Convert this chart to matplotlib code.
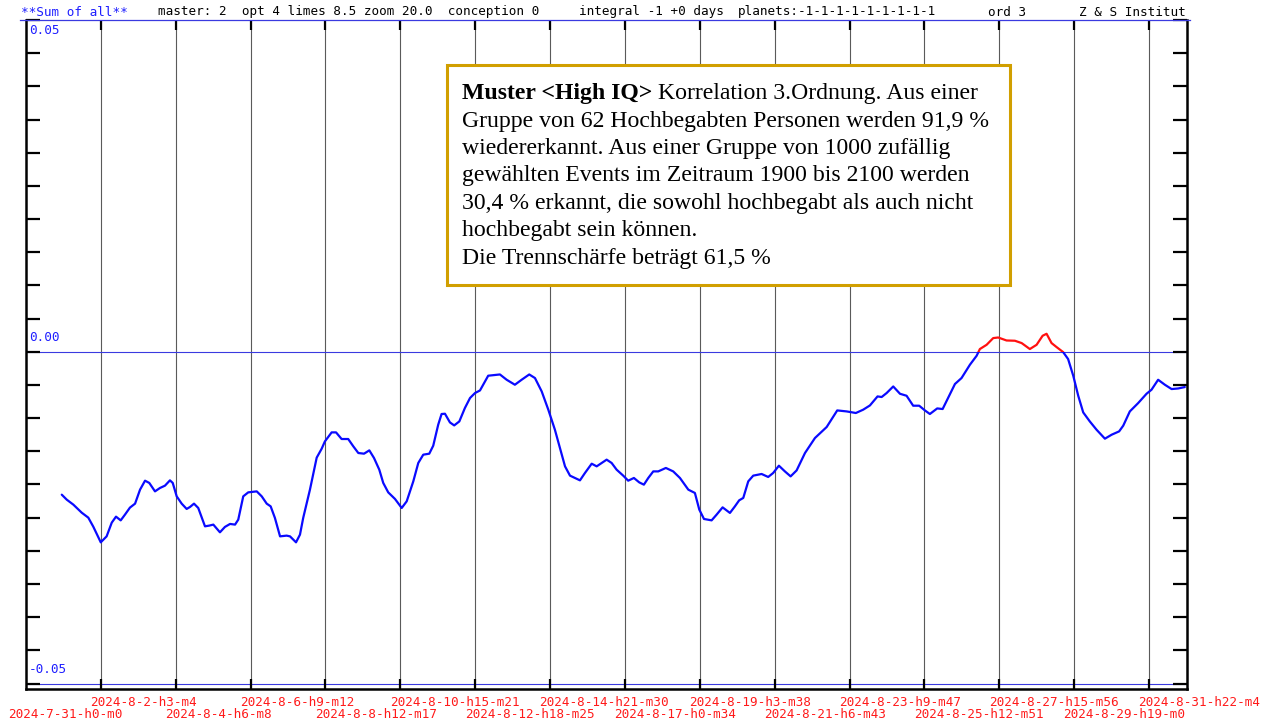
import matplotlib
matplotlib.use("Agg")
import matplotlib.pyplot as plt
import matplotlib.patches as mpatches
import matplotlib.transforms as mtransforms
from matplotlib.lines import Line2D
import numpy as np
from datetime import datetime

# ---------------- data ----------------
# hours since 2024-7-31 00:00
hours = [24.4, 27.8, 32.3, 38.0, 42.5, 45.9, 51.0, 55.0, 58.5, 61.4, 64.6, 67.5, 70.9, 74.4,
         77.8, 81.2, 84.1, 88.0, 91.4, 94.8, 98.2, 100.1, 102.8, 106.2, 109.6, 111.9, 114.6,
         117.5, 122.1, 125.0, 127.8, 132.3, 135.7, 139.2, 142.6, 144.8, 148.2, 151.6, 157.4,
         160.8, 164.2, 166.9, 169.8, 173.3, 177.8, 180.1, 184.2, 186.9, 189.1, 191.5, 193.7,
         198.3, 201.7, 203.9, 208.5, 211.5, 215.3, 219.8, 223.3, 226.7, 230.6, 234.2, 237.4,
         241.0, 243.7, 247.1, 251.7, 256.3, 259.7, 264.2, 267.6, 271.0, 275.1, 277.8, 281.2,
         283.5, 285.8, 289.2, 292.1, 295.6, 299.4, 302.9, 306.3, 309.7, 315.3, 319.9, 323.3,
         327.9, 333.5, 338.1, 343.3, 347.2, 351.8, 356.3, 360.8, 364.2, 367.7, 371.1, 374.5,
         377.9, 381.3, 385.9, 389.3, 396.1, 399.5, 402.9, 407.4, 410.8, 414.7, 418.3, 421.5,
         424.5, 427.9, 431.3, 436.5, 441.5, 446.1, 451.8, 456.3, 459.3, 462.5, 467.7, 471.1,
         475.2, 480.2, 483.6, 486.5, 489.3, 492.7, 496.1, 501.8, 506.3, 509.7, 513.6, 517.7,
         521.6, 525.7, 531.4, 538.2, 546.2, 553.4, 559.8, 566.1, 571.1, 575.7, 580.9, 583.7,
         587.1, 591.6, 596.2, 600.7, 605.2, 609.3, 613.2, 616.6, 621.6, 625.3, 628.4, 633.7,
         638.2, 643.9, 648.5, 650.7, 655.3, 659.8, 663.2, 668.9, 674.6, 679.2, 684.8, 689.4,
         693.5, 696.2, 699.6, 703.0, 707.5, 710.9, 714.4, 717.8, 721.2, 725.7, 730.3, 736.0,
         740.6, 745.7, 748.5, 753.0, 758.7, 764.4, 767.8, 772.3, 776.9, 781.5, 786.0, 790.5]

values = [-0.02154, -0.02229, -0.02304, -0.02425, -0.02500, -0.02636, -0.02872, -0.02782,
          -0.02575, -0.02485, -0.02541, -0.02455, -0.02349, -0.02289, -0.02078, -0.01943,
          -0.01977, -0.02104, -0.02053, -0.02018, -0.01938, -0.01977, -0.02179, -0.02289,
          -0.02369, -0.02339, -0.02289, -0.02354, -0.02631, -0.02620, -0.02605, -0.02721,
          -0.02640, -0.02595, -0.02605, -0.02530, -0.02179, -0.02119, -0.02104, -0.02179,
          -0.02289, -0.02330, -0.02504, -0.02782, -0.02771, -0.02782, -0.02872, -0.02756,
          -0.02504, -0.02279, -0.02078, -0.01596, -0.01461, -0.01351, -0.01215, -0.01215,
          -0.01315, -0.01315, -0.01426, -0.01526, -0.01536, -0.01486, -0.01601, -0.01777,
          -0.01977, -0.02119, -0.02218, -0.02354, -0.02254, -0.01953, -0.01676, -0.01551,
          -0.01536, -0.01416, -0.01099, -0.00938, -0.00934, -0.01065, -0.01110, -0.01050,
          -0.00848, -0.00697, -0.00622, -0.00583, -0.00361, -0.00351, -0.00342, -0.00422,
          -0.00497, -0.00422, -0.00342, -0.00396, -0.00598, -0.00873, -0.01175, -0.01450,
          -0.01727, -0.01867, -0.01902, -0.01938, -0.01827, -0.01687, -0.01727, -0.01626,
          -0.01676, -0.01777, -0.01867, -0.01943, -0.01902, -0.01968, -0.02003, -0.01902,
          -0.01803, -0.01803, -0.01751, -0.01803, -0.01902, -0.02078, -0.02128, -0.02379,
          -0.02520, -0.02541, -0.02455, -0.02345, -0.02429, -0.02330, -0.02239, -0.02203,
          -0.01953, -0.01867, -0.01842, -0.01887, -0.01827, -0.01717, -0.01803, -0.01878,
          -0.01788, -0.01526, -0.01300, -0.01134, -0.00884, -0.00899, -0.00923, -0.00873,
          -0.00809, -0.00673, -0.00682, -0.00622, -0.00523, -0.00633, -0.00663, -0.00813,
          -0.00813, -0.00884, -0.00938, -0.00854, -0.00863, -0.00723, -0.00486, -0.00396,
          -0.00196, -0.00060, 0.00041, 0.00105, 0.00206, 0.00215, 0.00170, 0.00166,
          0.00131, 0.00041, 0.00105, 0.00241, 0.00271, 0.00131, 0.00071, -0.00005,
          -0.00110, -0.00361, -0.00663, -0.00914, -0.01050, -0.01175, -0.01310, -0.01250,
          -0.01200, -0.01114, -0.00899, -0.00773, -0.00633, -0.00572, -0.00422, -0.00497,
          -0.00562, -0.00553, -0.00532]

tick_labels = ["2024-7-31-h0-m0", "2024-8-2-h3-m4", "2024-8-4-h6-m8", "2024-8-6-h9-m12",
               "2024-8-8-h12-m17", "2024-8-10-h15-m21", "2024-8-12-h18-m25",
               "2024-8-14-h21-m30", "2024-8-17-h0-m34", "2024-8-19-h3-m38",
               "2024-8-21-h6-m43", "2024-8-23-h9-m47", "2024-8-25-h12-m51",
               "2024-8-27-h15-m56", "2024-8-29-h19-m0", "2024-8-31-h22-m4"]

y_labels = ["0.05", "0.00", "-0.05"]
y_label_values = [0.05, 0.0, -0.05]

header_parts = ["**Sum of all**",
                "master: 2  opt 4 limes 8.5 zoom 20.0  conception 0",
                "integral -1 +0 days",
                "planets:-1-1-1-1-1-1-1-1-1",
                "ord 3",
                "Z & S Institut"]

box_title = "Muster <High IQ>"
box_lines = [" Korrelation 3.Ordnung. Aus einer",
             "Gruppe von 62 Hochbegabten Personen werden 91,9 %",
             "wiedererkannt. Aus einer Gruppe von 1000 zufällig",
             "gewählten Events im Zeitraum 1900 bis 2100 werden",
             "30,4 % erkannt, die sowohl hochbegabt als auch nicht",
             "hochbegabt sein können.",
             "Die Trennschärfe beträgt 61,5 %"]

# ---------------- figure ----------------
W, H = 1263, 722
fig = plt.figure(figsize=(W / 100, H / 100), dpi=100)
fig.patch.set_facecolor("white")

def fx(p):
    return p / W

def fy(p):
    return 1 - p / H

ax_top, ax_bot, ax_left, ax_right = 20, 688.5, 26, 1187
ax = fig.add_axes([fx(ax_left), fy(ax_bot), fx(ax_right - ax_left), (ax_bot - ax_top) / H])

start = datetime(2024, 7, 31, 0, 0)

def label_hours(s):
    p = s.split("-")
    d = datetime(int(p[0]), int(p[1]), int(p[2]), int(p[3][1:]), int(p[4][1:]))
    return (d - start).total_seconds() / 3600.0

tick_pos = [label_hours(s) for s in tick_labels]

ax.set_xlim(0, 792)
ax.set_ylim(-0.05075, 0.05)

mono = "DejaVu Sans Mono"
mono_size = 9.1
blue_txt = "#1e1eff"

# vertical grid lines
for t in tick_pos[1:]:
    ax.axvline(t, color="#5a5a5a", lw=0.8, zorder=1)

# horizontal lines
for v in [0.0, -0.05]:
    ax.axhline(v, color="#3a3ae0", lw=0.8, zorder=1)
fig.add_artist(Line2D([fx(20), fx(1190)], [fy(20), fy(20)], color="#3a3ae0", lw=0.9))

# curve: blue below zero, red above zero
x = np.array(hours)
y = np.array(values)
lb, = ax.plot(x, y, color="#0a0aff", lw=1.6, zorder=3, solid_capstyle="round")
lr, = ax.plot(x, y, color="#ff1010", lw=1.6, zorder=3, solid_capstyle="round")
clip_lo = mpatches.Rectangle((-10, -1), 1000, 1, transform=ax.transData)
clip_hi = mpatches.Rectangle((-10, 0), 1000, 1, transform=ax.transData)
lb.set_clip_path(clip_lo)
lr.set_clip_path(clip_hi)

# spines
for s in ["left", "right", "bottom"]:
    ax.spines[s].set_linewidth(1.8)
    ax.spines[s].set_color("black")
ax.spines["top"].set_visible(False)

# y ticks (inward, both sides)
ax.set_yticks(np.arange(-0.05, 0.0501, 0.005))
ax.yaxis.set_ticks_position("both")
ax.tick_params(axis="y", direction="in", length=10, width=1.6, color="black",
               labelleft=False, labelright=False)
# x ticks (inward, top and bottom)
ax.set_xticks(tick_pos[1:])
ax.xaxis.set_ticks_position("both")
ax.tick_params(axis="x", direction="in", length=7.5, width=1.6, color="black",
               labelbottom=False, labeltop=False)

# y labels
ylab_off = {"0.05": 11, "0.00": -14, "-0.05": -14}
for lab, v in zip(y_labels, y_label_values):
    ax.annotate(lab, xy=(0, v), xytext=(3 * 0.72, -ylab_off[lab] * 0.72), textcoords="offset points",
                ha="left", va="center", fontsize=mono_size, family=mono, color=blue_txt,
                annotation_clip=False)

# x labels (two rows, red)
blend = mtransforms.blended_transform_factory(ax.transData, fig.transFigure)
for i, (lab, t) in enumerate(zip(tick_labels, tick_pos)):
    row_y = 702 if i % 2 == 1 else 714
    off = -18 if i == 0 else -10.5
    tr = blend + mtransforms.ScaledTranslation(off / 100, 0, fig.dpi_scale_trans)
    ax.text(t, fy(row_y), lab, transform=tr, ha="left", va="center", fontsize=mono_size,
            family=mono, color="#ff1a1a", clip_on=False)

# header
header_x = [21, 158, 579, 738, 988, 1079]
for i, (txt, hx) in enumerate(zip(header_parts, header_x)):
    fig.text(fx(hx), fy(12), txt, ha="left", va="center", fontsize=mono_size, family=mono,
             color=blue_txt if i == 0 else "black")

# text box
box = mpatches.Rectangle((fx(447), fy(285)), fx(1010 - 447), (285 - 65) / H,
                         transform=fig.transFigure, facecolor="white",
                         edgecolor="#d19f00", linewidth=2.2, zorder=5)
fig.add_artist(box)
serif = "Liberation Serif"
box_size = 17.1
base0 = 99
t_bold = fig.text(fx(462), fy(base0), box_title, ha="left", va="baseline", fontsize=box_size,
                  family=serif, weight="bold", zorder=6)
fig.canvas.draw()
bb = t_bold.get_window_extent()
fig.text(bb.x1 / W, fy(base0), box_lines[0], ha="left", va="baseline", fontsize=box_size,
         family=serif, zorder=6)
for i, line in enumerate(box_lines[1:], start=1):
    fig.text(fx(462), fy(base0 + 27.5 * i), line, ha="left", va="baseline", fontsize=box_size,
             family=serif, zorder=6)

fig.savefig("out.png", dpi=100)
